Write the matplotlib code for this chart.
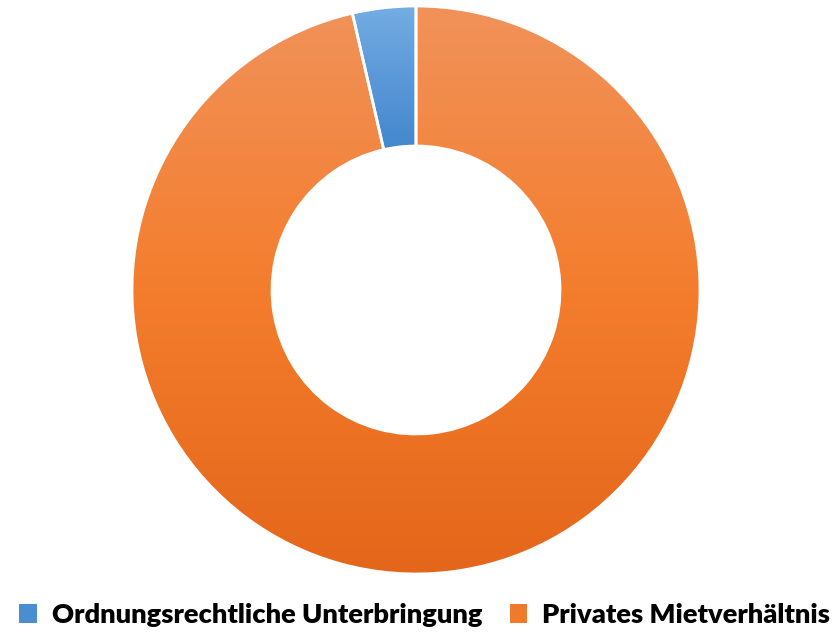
import numpy as np
import matplotlib.pyplot as plt
from matplotlib.patches import Wedge, Patch
from matplotlib.colors import LinearSegmentedColormap

labels = ["Ordnungsrechtliche Unterbringung", "Privates Mietverhältnis"]
values = [3.6, 96.4]
# gradient stops bottom -> middle -> top
grad_colors = [["#4487ce", "#5b98d8", "#74ade2"],
               ["#e4661a", "#f47d2d", "#f1925a"]]
legend_colors = ["#4a8dd0", "#f07a2c"]

plt.rcParams['font.family'] = ['Lato', 'DejaVu Sans']

fig = plt.figure(figsize=(8.36, 6.4), dpi=100)
r_px = 284
ax = fig.add_axes([(416 - r_px) / 836, (640 - 290 - r_px) / 640, 2 * r_px / 836, 2 * r_px / 640])
ax.set_xlim(-1, 1)
ax.set_ylim(-1, 1)
ax.set_aspect('equal')
ax.axis('off')

# slices go counterclockwise from 12 o'clock
start = 90
hole = 0.507
for lab, v, cols in zip(labels, values, grad_colors):
    ang = v / sum(values) * 360
    w = Wedge((0, 0), 1, start, start + ang, width=1 - hole,
              facecolor='none', edgecolor='none')
    ax.add_patch(w)
    ext = w.get_path().get_extents()
    cmap = LinearSegmentedColormap.from_list(lab, cols)
    grad = np.linspace(0, 1, 256).reshape(-1, 1)
    im = ax.imshow(grad, cmap=cmap, extent=[ext.x0, ext.x1, ext.y0, ext.y1],
                   origin='lower', aspect='auto', zorder=1)
    im.set_clip_path(w)
    ax.add_patch(Wedge((0, 0), 1, start, start + ang, width=1 - hole,
                       facecolor='none', edgecolor='white', linewidth=2, zorder=2))
    start += ang

ax.set_xlim(-1, 1)
ax.set_ylim(-1, 1)

handles = [Patch(facecolor=c, edgecolor='none') for c in legend_colors]
fig.legend(handles, labels, loc='lower center', bbox_to_anchor=(0.508, -0.018),
           ncol=2, frameon=False, prop={'weight': 'heavy', 'size': 19.6},
           handlelength=0.65, handleheight=0.65, handletextpad=0.55, columnspacing=1.0)

fig.savefig("out.png", dpi=100)
